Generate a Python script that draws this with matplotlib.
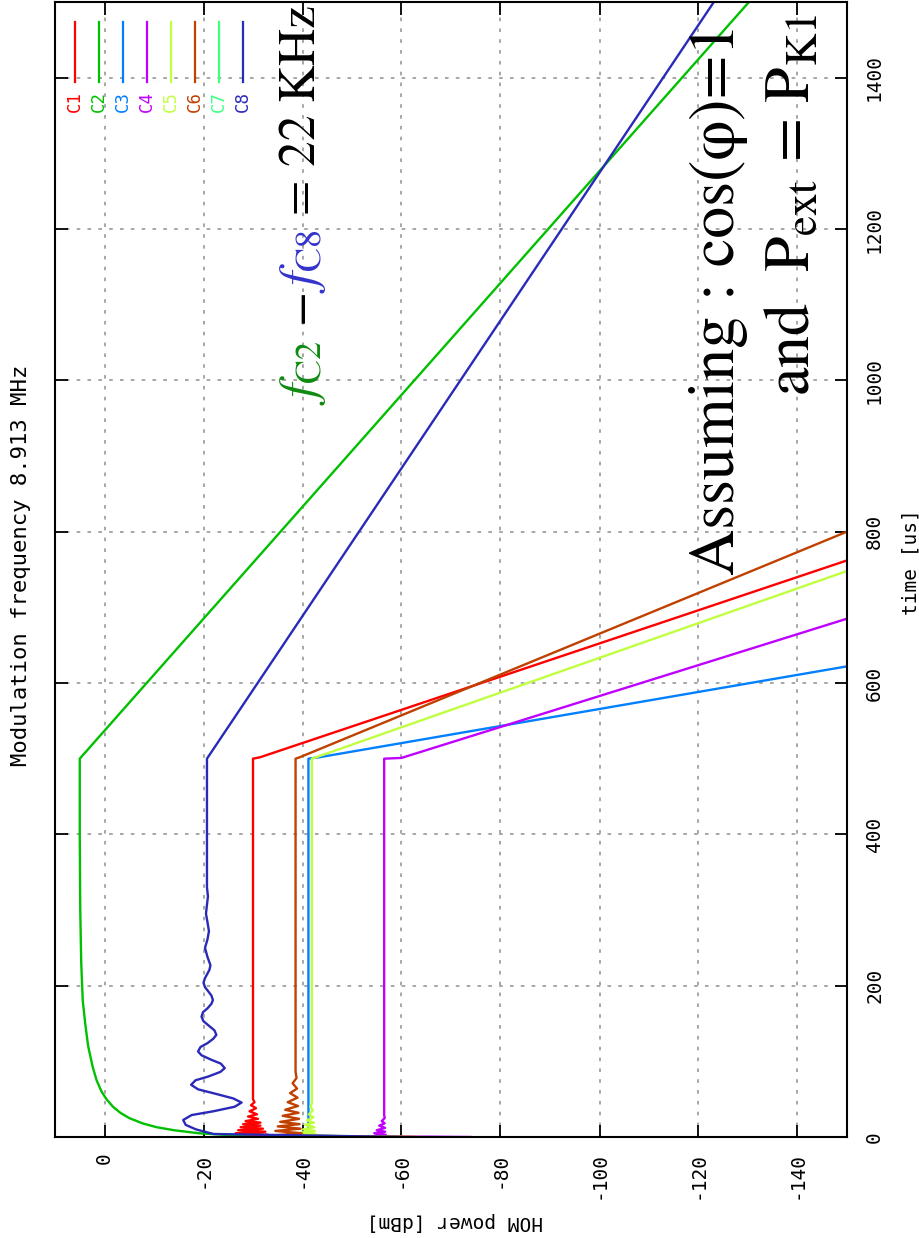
import matplotlib
matplotlib.use("Agg")
import matplotlib.pyplot as plt

plt.rcParams['mathtext.fontset'] = 'stix'
plt.rcParams['axes.unicode_minus'] = False

#%% data (time in us, HOM power in dBm)

names = ['C1', 'C2', 'C3', 'C4', 'C5', 'C6', 'C7', 'C8']
colors = ['#ff0000', '#00c000', '#0080ff', '#c000ff', '#c0ff40', '#c04000', '#40ff80', '#2a2ab8']

c1_t = [0, 1, 3, 5, 7, 9, 11, 13, 15, 17, 19, 21, 24, 27, 30, 34, 38, 42, 46, 50, 500, 502, 762]
c1_p = [-45, -26, -33, -26.5, -32.5, -27, -32, -27.5, -31.5, -28, -31.5, -28.5, -31, -29,
        -30.8, -29.3, -30.6, -29.6, -30.3, -30, -30, -31.5, -150]

c2_t = [0, 3, 5, 9, 13, 18, 25, 32, 40, 50, 60, 75, 93, 120, 150, 181, 230, 300, 400, 500, 1500]
c2_p = [-30, -24, -19, -14, -10.5, -7.7, -5, -3.2, -1.7, -0.4, 0.6, 1.6, 2.4, 3.3, 3.9,
        4.4, 4.7, 4.9, 5.0, 5.0, -130.2]

c3_t = [0, 2, 500, 502, 622]
c3_p = [-55, -41.2, -41.2, -43.5, -150]

c4_t = [0, 1, 3, 5, 7, 9, 12, 15, 18, 21, 25, 29, 500, 501, 685]
c4_p = [-74, -54.2, -56.8, -54.5, -56.7, -55, -56.7, -55.5, -56.6, -56, -56.6, -56.5,
        -56.5, -60, -150]

c5_t = [0, 2, 4, 6, 8, 10, 13, 16, 19, 22, 26, 30, 35, 40, 45, 500, 502, 748]
c5_p = [-64.5, -39.6, -42.6, -39.8, -42.5, -40.1, -42.4, -40.5, -42.3, -40.9, -42.2,
        -41.3, -42.1, -41.6, -41.9, -41.9, -42.8, -150]

c6_t = [0, 2, 5, 8, 11, 14, 17, 20, 24, 28, 32, 36, 41, 46, 52, 58, 64, 71, 78, 86, 500, 502, 800]
c6_p = [-62.5, -34, -39.8, -34.5, -39.6, -35, -39.4, -35.5, -39.3, -36, -39.2, -36.5,
        -39.1, -37, -39, -37.5, -38.9, -38, -38.8, -38.6, -38.6, -39.5, -150]

c7_t = []   # not visible in the picture
c7_p = []

c8_t = [0, 4, 10, 16, 22.5, 29, 34, 40, 45.5, 51, 57, 63, 69, 75, 80, 86, 91, 97, 102, 108,
        113, 119, 124, 130, 135, 141, 147, 153, 159, 165, 170, 176, 181, 187, 193, 198, 204,
        210, 216, 221, 227, 238, 250, 261, 272, 284, 295, 307, 318, 330, 500, 1500]
c8_p = [-60, -22, -18.5, -16.4, -15.9, -17.6, -22, -26.3, -27.7, -26, -22.5, -18.9, -17.5,
        -18.4, -21, -23.4, -24.3, -23.5, -21.6, -19.6, -18.9, -19.4, -20.8, -22, -22.6,
        -22.2, -21.1, -20, -19.6, -19.9, -20.8, -21.6, -21.9, -21.6, -20.9, -20.3, -20.0,
        -20.3, -20.8, -21.2, -21.4, -20.8, -20.3, -20.8, -21.1, -20.8, -20.5, -20.7, -20.9,
        -20.7, -20.7, -123.1]

times = [c1_t, c2_t, c3_t, c4_t, c5_t, c6_t, c7_t, c8_t]
powers = [c1_p, c2_p, c3_p, c4_p, c5_p, c6_p, c7_p, c8_p]

power_ticks = [0, -20, -40, -60, -80, -100, -120, -140]
time_ticks = [0, 200, 400, 600, 800, 1000, 1200, 1400]

title = 'Modulation frequency 8.913 MHz'
xlabel = 'time [us]'
ylabel = 'HOM power [dBm]'

#%% figure (gnuplot landscape plot turned on its side)

W, H = 919, 1238
mono = 'DejaVu Sans Mono'

fig = plt.figure(figsize=(W / 100, H / 100), dpi=100)
ax = fig.add_axes([55 / W, 1 - 1137 / H, (847 - 55) / W, (1137 - 2) / H])

for t, p, c in zip(times, powers, colors):
    if len(t):
        ax.plot(p, t, color=c, lw=1.7)

ax.set_xlim(10, -150)
ax.set_ylim(0, 1500)

ax.set_xticks(power_ticks)
ax.set_xticklabels([str(v) for v in power_ticks], rotation=90, family=mono, fontsize=14)
ax.set_yticks(time_ticks)
ax.set_yticklabels([str(v) for v in time_ticks], rotation=90, va='center', family=mono, fontsize=14)

ax.tick_params(direction='in', length=9, width=1.3, top=True, right=True, left=True, bottom=True,
               labelleft=False, labelright=True)
ax.tick_params(axis='x', pad=11)
ax.tick_params(axis='y', pad=13)

for sp in ax.spines.values():
    sp.set_linewidth(1.5)

ax.grid(True, color='#a0a0a0', linestyle=(0, (2, 4)), lw=1.3)
ax.set_axisbelow(True)

# legend: short vertical samples with rotated labels underneath
ax_h = 1135.0
for i, (name, c) in enumerate(zip(names, colors)):
    xa = (20 + 24 * i) / 792.0
    ax.plot([xa, xa], [1 - 20 / ax_h, 1 - 80 / ax_h], color=c, lw=1.6,
            transform=ax.transAxes, clip_on=False)
    ax.text(xa, 1 - 89 / ax_h, name, color=c, rotation=90, ha='center', va='top',
            family=mono, fontsize=12.5, transform=ax.transAxes)

fig.text(21 / W, 1 - 565 / H, title, rotation=90, ha='center', va='center', family=mono, fontsize=16)
fig.text(911 / W, 1 - 562 / H, xlabel, rotation=90, ha='center', va='center', family=mono, fontsize=14)
fig.text(455 / W, 1 - 1221 / H, ylabel, rotation=180, ha='center', va='center', family=mono, fontsize=14)

#%% big annotations, pieces stacked upward along the baseline

renderer = fig.canvas.get_renderer()


def stacked_text(x_px, y_px, pieces, size):
    y = H - y_px
    for s, c in pieces:
        txt = fig.text(x_px / W, y / H, s, color=c, rotation=90, rotation_mode='anchor',
                       ha='left', va='baseline', fontsize=size, family='STIXGeneral')
        y += txt.get_window_extent(renderer).height


stacked_text(315, 405, [(r'$f_{\mathrm{C2}}$', '#108a10'),
                        (r'$\,-\,$', 'black'),
                        (r'$f_{\mathrm{C8}}$', '#3333cc'),
                        (r'$\,=\,$22 KHz', 'black')], 37)

stacked_text(734, 575, [('Assuming : cos(\u03c6)=1', 'black')], 46)
stacked_text(809, 396, [(r'and  $\mathrm{P_{ext}}$ = $\mathrm{P_{K1}}$', 'black')], 46)

fig.savefig('out.png', dpi=100)
